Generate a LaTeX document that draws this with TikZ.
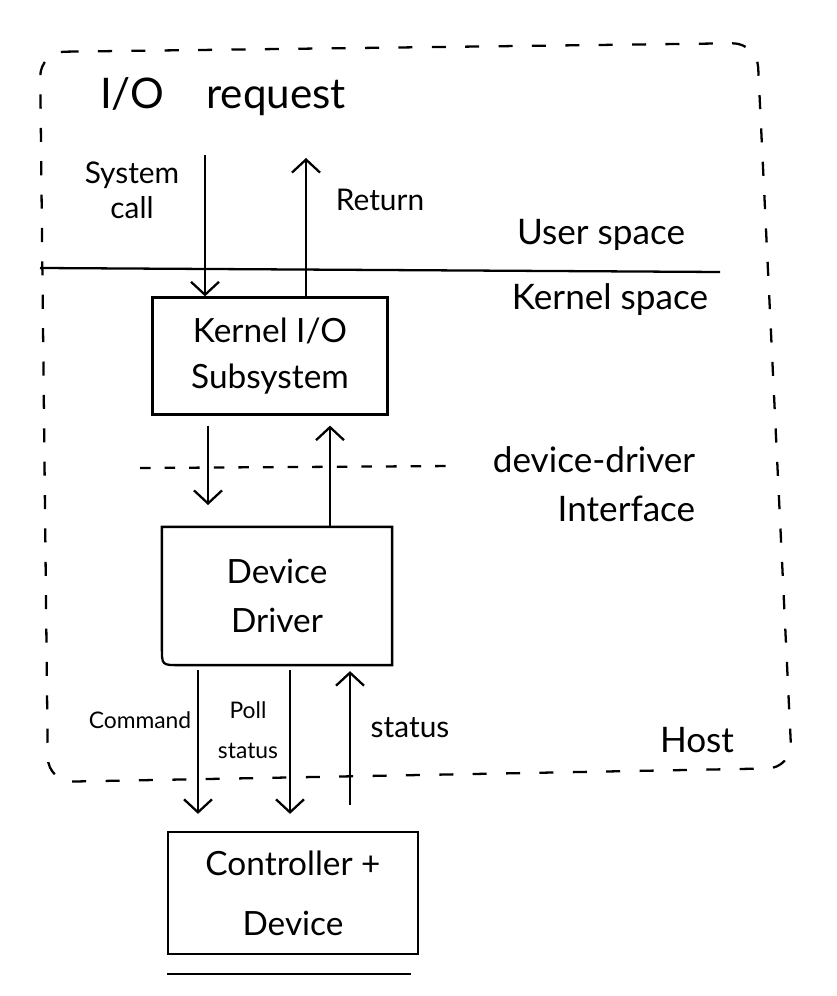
\documentclass[tikz,border=0pt]{standalone}
\usepackage{fontspec}
\setmainfont{Lato}
\usetikzlibrary{arrows.meta}

\begin{document}
\begin{tikzpicture}[x=0.02cm,y=-0.02cm,line width=1.3pt,
  >={Straight Barb[length=2.6mm,width=5.6mm]},
  box/.style={draw,line width=1.3pt,align=center,font=\fontsize{19}{26}\selectfont},
  bigtext/.style={font=\fontsize{24}{28}\selectfont},
  midtext/.style={align=center,font=\fontsize{20}{28}\selectfont},
  smalltext/.style={align=center,font=\fontsize{17}{20}\selectfont},
  tinytext/.style={align=center,font=\fontsize{13}{23}\selectfont}]
  \useasboundingbox (0,0) rectangle (837,996);
  % host border
  \draw[dash pattern=on 8pt off 11pt,rounded corners=14pt] (40,52) -- (757,43) -- (792,768) -- (48,782) -- cycle;
  \node[midtext] (host) at (697,740) {Host};
  % user / kernel split
  \draw (40,268) -- (720,272);
  \node[bigtext] (iorequest) at (223,97) {I/O\quad request};
  \node[midtext] (userspace) at (601,235) {User space};
  \node[midtext] (kernelspace) at (610,300) {Kernel space};
  % boxes
  \node[box,minimum width=4.7cm,minimum height=2.34cm] (kernel) at (270,356) {Kernel I/O\\Subsystem};
  \node[box,draw=none,font=\fontsize{19}{28}\selectfont,minimum width=4.56cm,minimum height=2.72cm] (driver) at (277,596) {Device\\Driver};
  \draw (driver.south east) -- ([xshift=10pt]driver.south west) .. controls (driver.south west) .. ([yshift=10pt]driver.south west) -- (driver.north west) -- (driver.north east) -- cycle;
  \node[box,font=\fontsize{19}{34}\selectfont,minimum width=5cm,minimum height=2.44cm] (ctrl) at (293,893) {Controller +\\Device};
  \draw ([yshift=-0.38cm]ctrl.south west) -- ([yshift=-0.38cm,xshift=-0.16cm]ctrl.south east);
  % device-driver interface
  \draw[dash pattern=on 6pt off 8pt] (140,468) -- (455,466);
  \node[midtext,align=right] (ddi) at (594,484) {device-driver\\Interface};
  % system call / return
  \coordinate (callTop) at (205,155);
  \coordinate (retTop) at (306,158);
  \draw[->] (callTop) -- (callTop |- kernel.north);
  \draw[->] (retTop |- kernel.north) -- (retTop);
  \node[smalltext] (syscall) at (132,190) {System\\call};
  \node[smalltext] (return) at (380,200) {Return};
  % kernel <-> driver
  \coordinate (dnEnd) at (208,505);
  \coordinate (upX) at (330,0);
  \draw[->,shorten <=0.2cm] (dnEnd |- kernel.south) -- (dnEnd);
  \draw[->,shorten >=0.2cm] (upX |- driver.north) -- (upX |- kernel.south);
  % driver <-> controller
  \coordinate (cmdX) at (198,0);
  \coordinate (pollX) at (290,0);
  \coordinate (statX) at (350,0);
  \draw[->,shorten <=0.1cm,shorten >=0.34cm] (cmdX |- driver.south) -- (cmdX |- ctrl.north);
  \draw[->,shorten <=0.1cm,shorten >=0.34cm] (pollX |- driver.south) -- (pollX |- ctrl.north);
  \draw[->,shorten <=0.52cm,shorten >=0.12cm] (statX |- ctrl.north) -- (statX |- driver.south);
  \node[tinytext] (command) at (140,720) {Command};
  \node[tinytext] (poll) at (248,730) {Poll\\status};
  \node[smalltext] (status) at (410,728) {status};
\end{tikzpicture}
\end{document}
